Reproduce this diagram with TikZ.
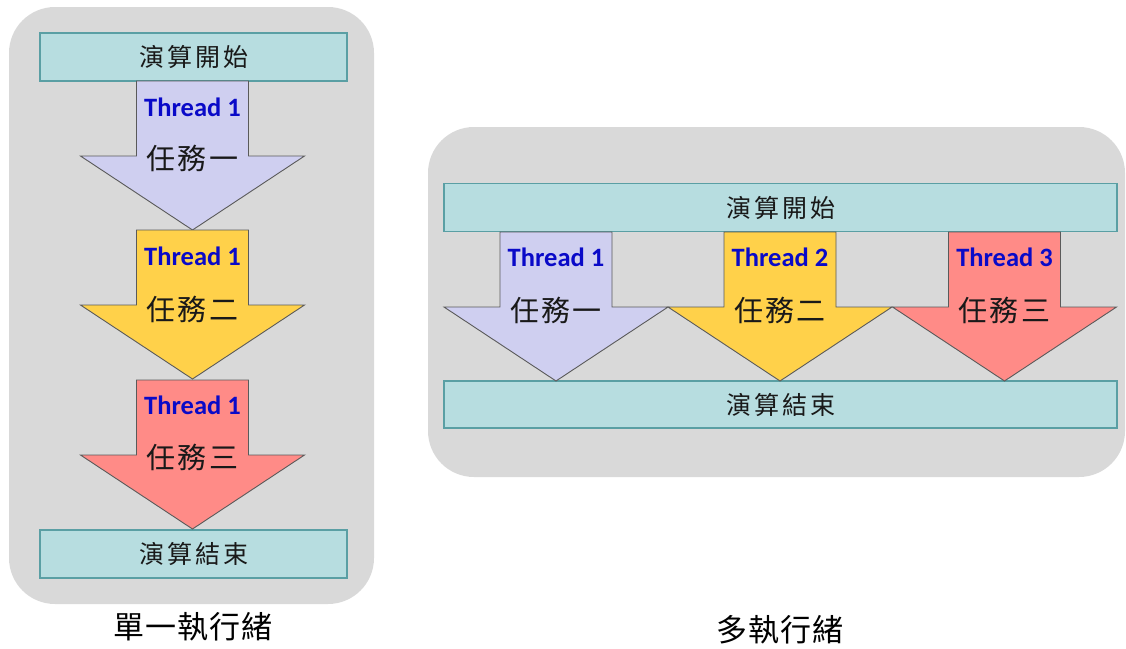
\documentclass[tikz,border=0pt]{standalone}
\usepackage{fontspec}
\newfontfamily\cjkbox[LetterSpace=12]{Noto Sans CJK TC}
\newfontfamily\cjktask[LetterSpace=8]{Noto Sans CJK TC}
\newfontfamily\cjkcap[LetterSpace=4]{Noto Sans CJK TC}
\newfontfamily\latinbold{Carlito}

\definecolor{panelgray}{HTML}{D9D9D9}
\definecolor{tealfill}{HTML}{B7DDE0}
\definecolor{tealline}{HTML}{5A9FA4}
\definecolor{lavender}{HTML}{CFCFF0}
\definecolor{gold}{HTML}{FFD14A}
\definecolor{salmon}{HTML}{FF8B87}
\definecolor{arrowline}{HTML}{5A5A5A}
\definecolor{threadblue}{HTML}{0A0AC8}

\tikzset{
  panel/.style={fill=panelgray, draw=none, rounded corners=46pt},
  stagebox/.style={draw=tealline, fill=tealfill, line width=1.3pt, inner sep=0pt,
    font=\cjkbox\fontsize{25}{28}\selectfont, text=black!90},
  taskshape/.style={draw=arrowline, line width=0.9pt, line join=miter},
  threadlabel/.style={inner sep=0pt, text=threadblue,
    font=\latinbold\bfseries\fontsize{26.5}{30}\selectfont},
  tasklabel/.style={inner sep=0pt, text=black!90,
    font=\cjktask\fontsize{29}{32}\selectfont},
  caption/.style={inner sep=0pt, text=black,
    font=\cjkcap\fontsize{31}{34}\selectfont},
  % down-pointing block arrow, origin at the top centre of its shaft
  taskarrow/.pic={
    \path[taskshape, fill=#1] (-56,0) -- (56,0) -- (56,75) -- (112,75)
      -- (0,149) -- (-112,75) -- (-56,75) -- cycle;
  }
}

\begin{document}
\begin{tikzpicture}[x=1pt, y=-1pt]
\useasboundingbox (0,0) rectangle (1126,648);

% ---- single thread ----
\path[panel] (9,7) rectangle (374,604);
\node[stagebox, minimum width=307, minimum height=48] (lstart) at (193.5,57) {演算開始};
\node[stagebox, minimum width=307, minimum height=48] (lend) at (193.5,554) {演算結束};

\pic at (192.5,81)  {taskarrow=lavender};
\pic at (192.5,230) {taskarrow=gold};
\pic at (192.5,380) {taskarrow=salmon};

\node[threadlabel] (lth1) at (192.5,107) {Thread 1};
\node[tasklabel]   (ltk1) at (192.5,158) {任務一};
\node[threadlabel] (lth2) at (192.5,256) {Thread 1};
\node[tasklabel]   (ltk2) at (192.5,309) {任務二};
\node[threadlabel] (lth3) at (192.5,405) {Thread 1};
\node[tasklabel]   (ltk3) at (192.5,457) {任務三};

\node[caption] (lcap) at (193,627) {單一執行緒};

% ---- multiple threads ----
\path[panel] (428,127) rectangle (1125,477);
\node[stagebox, minimum width=673, minimum height=48] (rstart) at (780.5,207.5) {演算開始};
\node[stagebox, minimum width=673, minimum height=47] (rend) at (780.5,404.5) {演算結束};

\pic at (556,232)    {taskarrow=lavender};
\pic at (780,232)    {taskarrow=gold};
\pic at (1004.5,232) {taskarrow=salmon};

\node[threadlabel] (rth1) at (556,257)    {Thread 1};
\node[tasklabel]   (rtk1) at (556,310)    {任務一};
\node[threadlabel] (rth2) at (780,257)    {Thread 2};
\node[tasklabel]   (rtk2) at (780,310)    {任務二};
\node[threadlabel] (rth3) at (1004.5,257) {Thread 3};
\node[tasklabel]   (rtk3) at (1004.5,310) {任務三};

\node[caption] (rcap) at (780,630) {多執行緒};
\end{tikzpicture}
\end{document}
